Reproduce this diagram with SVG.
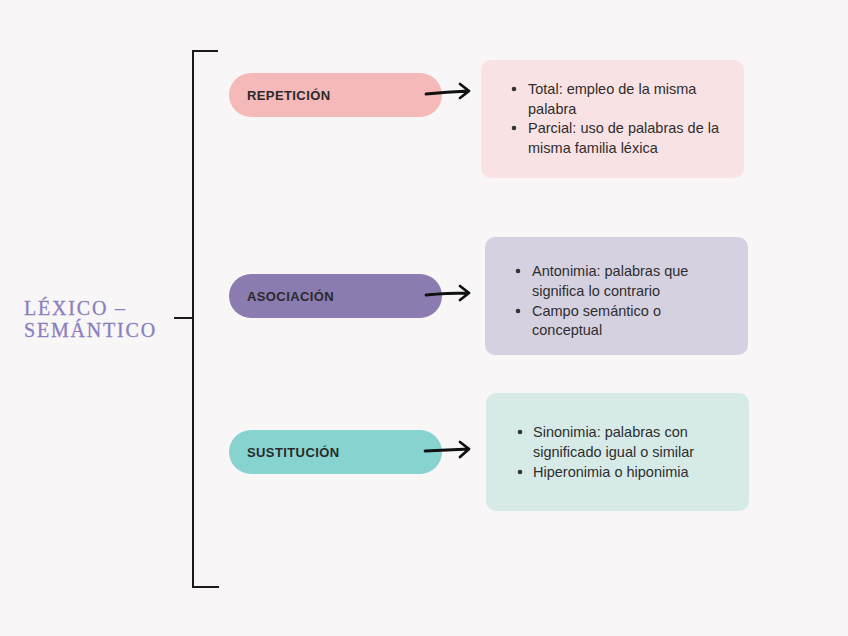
<svg xmlns="http://www.w3.org/2000/svg" width="848" height="636" viewBox="0 0 848 636">
<style>
.lbl{font-family:"Liberation Sans",Arial,sans-serif;font-weight:bold;font-size:13px;fill:#2a2a2a;letter-spacing:0.4px}
.txt{font-family:"Liberation Sans",Arial,sans-serif;font-size:14.5px;fill:#2e2e2e}
.ttl{font-family:"Liberation Serif","Times New Roman",serif;font-size:20px;fill:#8a80bd;letter-spacing:1.8px;stroke:#8a80bd;stroke-width:0.3}
.br{fill:none;stroke:#1a1a1a;stroke-width:2}
.ar{fill:none;stroke:#111;stroke-width:2.8;stroke-linecap:round;stroke-linejoin:round}
</style>
<rect width="848" height="636" fill="#f8f6f7"/>
<g id="title">
<text class="ttl" x="24" y="315">LÉXICO –</text>
<text class="ttl" x="24" y="337">SEMÁNTICO</text>
</g>
<g id="repeticion">
<rect x="229" y="73" width="213" height="44" rx="22" fill="#f5b9b9"/>
<text class="lbl" x="247" y="100">REPETICIÓN</text>
</g>
<g id="asociacion">
<rect x="229" y="274" width="213" height="44" rx="22" fill="#8a7bb1"/>
<text class="lbl" x="247" y="301">ASOCIACIÓN</text>
</g>
<g id="sustitucion">
<rect x="229" y="430" width="213" height="44" rx="22" fill="#87d3d0"/>
<text class="lbl" x="247" y="457">SUSTITUCIÓN</text>
</g>
<g id="box-repeticion">
<rect x="481" y="60" width="263" height="118" rx="10" fill="#f8e2e3"/>
<circle cx="514" cy="89" r="2.3" fill="#333"/>
<circle cx="514" cy="128" r="2.3" fill="#333"/>
<text class="txt" x="528" y="94">Total: empleo de la misma</text>
<text class="txt" x="528" y="114">palabra</text>
<text class="txt" x="528" y="133">Parcial: uso de palabras de la</text>
<text class="txt" x="528" y="153">misma familia léxica</text>
</g>
<g id="box-asociacion">
<rect x="485" y="237" width="263" height="118" rx="10" fill="#d6d1e1"/>
<circle cx="518" cy="271" r="2.3" fill="#333"/>
<circle cx="518" cy="311" r="2.3" fill="#333"/>
<text class="txt" x="532" y="276">Antonimia: palabras que</text>
<text class="txt" x="532" y="296">significa lo contrario</text>
<text class="txt" x="532" y="316">Campo semántico o</text>
<text class="txt" x="532" y="335">conceptual</text>
</g>
<g id="box-sustitucion">
<rect x="486" y="393" width="263" height="118" rx="10" fill="#d6ebe8"/>
<circle cx="520" cy="432" r="2.3" fill="#333"/>
<circle cx="520" cy="472" r="2.3" fill="#333"/>
<text class="txt" x="533" y="437">Sinonimia: palabras con</text>
<text class="txt" x="533" y="457">significado igual o similar</text>
<text class="txt" x="533" y="477">Hiperonimia o hiponimia</text>
</g>
<g id="connectors">
<path class="br" d="M218 51 H193 V587 H219"/>
<path class="br" d="M174 318 H193"/>
<path class="ar" d="M426 94 Q446 92 469 91 M460 84 L469 91 L460 98"/>
<path class="ar" d="M426 295 Q446 293 469 293 M460 286 L469 293 L460 300"/>
<path class="ar" d="M425 451 Q446 450 469 449 M460 442 L469 449 L460 457"/>
</g>
</svg>
